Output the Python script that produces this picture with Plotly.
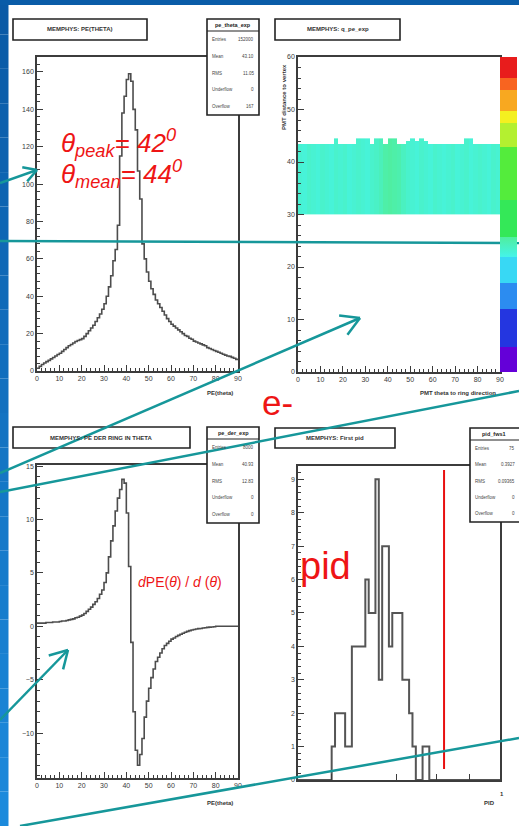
import math
import numpy as np
import plotly.graph_objects as go

W, H = 519, 826
FONT = "Liberation Sans, Arial, sans-serif"

# ---------------- data ----------------
theta_range = [0, 90]
# PE(theta) histogram, 1 degree bins
pe_theta_counts = [1.5, 2.5, 3.5, 4.3, 5, 5.7, 6.5, 7.2, 8, 8.8,
                   9.5, 10.5, 11.5, 12.5, 13.5, 14.2, 15, 15.8, 16.3, 16.8,
                   17.3, 18.5, 20, 21.5, 23, 24.5, 26.5, 28.5, 30.5, 33,
                   36, 40, 45, 51, 59, 65, 78, 115, 138, 147,
                   156, 159, 155, 140, 129, 107, 92, 68, 60, 53,
                   48, 44, 41, 38, 36, 34, 32, 30, 28, 26.5,
                   25, 24, 23, 22, 21, 20, 19, 18.5, 17.5, 17,
                   16, 15.5, 15, 14.5, 14, 13.5, 12.5, 12, 11.5, 11,
                   10.5, 10, 9.5, 9, 8.5, 8, 7.8, 7.3, 6.8, 6.2]
# dPE/dtheta histogram, 1 degree bins
pe_deriv = [0.3, 0.3, 0.3, 0.3, 0.35, 0.35, 0.35, 0.4, 0.4, 0.4,
            0.45, 0.5, 0.5, 0.55, 0.6, 0.65, 0.7, 0.8, 0.85, 0.95,
            1.05, 1.2, 1.4, 1.6, 1.8, 2.05, 2.3, 2.6, 3.0, 3.4,
            4.1, 5.0, 6.5, 8.0, 9.4, 10.8, 12.0, 12.8, 13.75, 13.4,
            10.6, 5.6, -1.5, -8.0, -11.6, -13.0, -12.0, -10.5, -8.5, -7.0,
            -5.8, -4.8, -4.0, -3.3, -2.9, -2.5, -2.1, -1.8, -1.6, -1.4,
            -1.2, -1.1, -0.95, -0.85, -0.75, -0.65, -0.55, -0.47, -0.4, -0.35,
            -0.3, -0.25, -0.22, -0.2, -0.16, -0.13, -0.1, -0.08, -0.06, -0.04,
            0, 0, 0, 0, 0, 0, 0, 0, 0, 0]

# q_pe_exp 2D map: band from band_low to band_top per 2-degree column
pmt_theta_range = [0, 90]
pmt_dist_range = [0, 60]
band_low = 30
band_step = 0.5
band_top = [43.5] * 8 + [44.5] + [43.5] * 4 + [44.5] * 3 + [43.5] + [44.5] * 2 + [43.5] \
    + [44.5] * 2 + [43.5] * 2 + [44.0, 44.5, 44.0, 44.5, 44.0] + [43.5] * 8 + [44.5] * 2 + [43.5] * 6
band_level = [0.385, 0.38, 0.39, 0.385, 0.38, 0.39, 0.385, 0.38, 0.39, 0.385,
              0.39, 0.38, 0.385, 0.39, 0.385, 0.38, 0.39, 0.395, 0.405, 0.42,
              0.425, 0.42, 0.415, 0.40, 0.39, 0.385, 0.38, 0.39, 0.385, 0.38,
              0.39, 0.385, 0.38, 0.385, 0.39, 0.38, 0.385, 0.39, 0.38, 0.385,
              0.39, 0.385, 0.38, 0.39, 0.385]

# pid histogram, 60 bins over [0, 1]
pid_range = [0, 1]
pid_counts = [0] * 10 + [1, 2, 2, 2, 1, 1, 4, 4, 4, 4,
                         6, 5, 5, 9, 3, 7, 7, 4, 5, 5,
                         5, 3, 3, 2, 1, 0, 0, 1, 1, 0] + [0] * 20
pid_cut = 0.723
pid_cut_span = [0.33, 9.28]
pid_ticks = [0.167, 0.489, 0.687, 0.851, 1.0]

# ---------------- helpers ----------------
def px(x):
    return x / W


def py(y):
    return 1 - y / H


AX = "#3c3c3c"
HCOL = "#4d4d4d"
TEAL = "#16979a"
RED = "#ee1515"

shapes = []
annotations = []


def rect(x0, y0, x1, y1, line="#222", fill="white", lw=1.5, layer="above"):
    shapes.append(dict(type="rect", xref="paper", yref="paper", x0=px(x0), x1=px(x1),
                       y0=py(y1), y1=py(y0), line=dict(color=line, width=lw),
                       fillcolor=fill, layer=layer))


def pline(x0, y0, x1, y1, color, width):
    shapes.append(dict(type="line", xref="paper", yref="paper", x0=px(x0), y0=py(y0),
                       x1=px(x1), y1=py(y1), line=dict(color=color, width=width), layer="above"))


def text(x, y, s, size, color="#222", xanchor="center", yanchor="middle", angle=0, bold=False, family=FONT):
    if bold:
        s = "<b>" + s + "</b>"
    annotations.append(dict(x=px(x), y=py(y), xref="paper", yref="paper", text=s, showarrow=False,
                            xanchor=xanchor, yanchor=yanchor, textangle=angle,
                            font=dict(size=size, color=color, family=family)))


def title_box(x0, y0, x1, y1, s):
    rect(x0, y0, x1, y1, lw=1.6)
    text((x0 + x1) / 2, (y0 + y1) / 2, s, 6, color="#333", bold=True)


def stats_box(x0, y0, x1, y1, header, rows, vx=None):
    rect(x0, y0, x1, y1, lw=1.6)
    hy = y0 + 12
    pline(x0, hy, x1, hy, "#222", 1.2)
    text((x0 + min(x1, 518)) / 2, y0 + 6, header, 5.5, color="#222", bold=True)
    n = len(rows)
    step = (y1 - hy) / n
    vx = (x1 - 3) if vx is None else vx
    for i, (k, v) in enumerate(rows):
        yy = hy + step * (i + 0.5)
        text(x0 + 3, yy, k, 4.5, color="#444", xanchor="left")
        text(vx, yy, v, 4.5, color="#444", xanchor="right")


def arrow(sx, sy, tx, ty, L=16, ang=30, width=2.5):
    pline(sx, sy, tx, ty, TEAL, width)
    dx, dy = tx - sx, ty - sy
    n = math.hypot(dx, dy)
    ux, uy = dx / n, dy / n
    for s in (1, -1):
        a = math.radians(ang * s)
        rx = ux * math.cos(a) - uy * math.sin(a)
        ry = ux * math.sin(a) + uy * math.cos(a)
        pline(tx - L * rx, ty - L * ry, tx, ty, TEAL, width)


def axis(domain, anchor, rng, tickvals=None, dtick=None, minor=None, ticklen=6, labels=True):
    d = dict(domain=domain, anchor=anchor, range=rng, showline=True, linecolor=AX, linewidth=1.6,
             mirror=True, ticks="inside", ticklen=ticklen, tickwidth=1.2, tickcolor=AX,
             showgrid=False, zeroline=False, showticklabels=labels,
             tickfont=dict(size=7, color="#3a3a3a", family=FONT), fixedrange=True)
    if tickvals is not None:
        d["tickvals"] = tickvals
        d["tickmode"] = "array"
    if dtick is not None:
        d["dtick"] = dtick
        d["tick0"] = 0
    if minor is not None:
        d["minor"] = dict(ticks="inside", ticklen=3, tickwidth=1, tickcolor=AX, dtick=minor, tick0=0, showgrid=False)
    return d


def hist_xy(counts, rng):
    n = len(counts)
    edges = np.linspace(rng[0], rng[1], n + 1)
    return list(edges), list(counts) + [counts[-1]]


fig = go.Figure()

# ---- panel 1: PE(theta)
hx, hy = hist_xy(pe_theta_counts, theta_range)
fig.add_trace(go.Scatter(x=hx, y=hy, mode="lines", line=dict(color=HCOL, width=1.6, shape="hv"),
                         xaxis="x", yaxis="y", hoverinfo="skip"))

# ---- panel 2: heatmap
ncol = len(band_top)
cw = (pmt_theta_range[1] - pmt_theta_range[0]) / ncol
xc = [pmt_theta_range[0] + cw * (i + 0.5) for i in range(ncol)]
nrow = int(round((max(band_top) - band_low) / band_step))
yc = [band_low + band_step * (j + 0.5) for j in range(nrow)]
z = [[(band_level[i] if yc[j] < band_top[i] else None) for i in range(ncol)] for j in range(nrow)]
cs = [[0.0, "#6400d8"], [0.08, "#6400d8"],
      [0.08, "#2436e0"], [0.2, "#2436e0"],
      [0.2, "#2c8cf0"], [0.283, "#2c8cf0"],
      [0.283, "#38d8f4"], [0.365, "#38d8f4"],
      [0.365, "#44f4ea"], [0.43, "#50ee9c"],
      [0.43, "#34e858"], [0.546, "#34e858"],
      [0.546, "#54ec3c"], [0.714, "#54ec3c"],
      [0.714, "#b4f030"], [0.79, "#b4f030"],
      [0.79, "#f4f020"], [0.83, "#f4f020"],
      [0.83, "#f8a820"], [0.895, "#f8a820"],
      [0.895, "#f86420"], [0.933, "#f86420"],
      [0.933, "#e81c1c"], [1.0, "#e81c1c"]]
fig.add_trace(go.Heatmap(x=xc, y=yc, z=z, zmin=0, zmax=1, colorscale=cs, xaxis="x2", yaxis="y2",
                         hoverinfo="skip", zsmooth=False,
                         colorbar=dict(x=px(500), xanchor="left", y=py(214.5), yanchor="middle",
                                       len=315 / H, lenmode="fraction", thickness=17, thicknessmode="pixels",
                                       xpad=0, ypad=0, outlinewidth=0, showticklabels=False, ticks="")))

# ---- panel 3: derivative
dx_, dy_ = hist_xy(pe_deriv, theta_range)
fig.add_trace(go.Scatter(x=dx_, y=dy_, mode="lines", line=dict(color=HCOL, width=1.6, shape="hv"),
                         xaxis="x3", yaxis="y3", hoverinfo="skip"))

# ---- panel 4: pid
qx, qy = hist_xy(pid_counts, pid_range)
fig.add_trace(go.Scatter(x=qx, y=qy, mode="lines", line=dict(color="#555", width=2.0, shape="hv"),
                         xaxis="x4", yaxis="y4", hoverinfo="skip"))
fig.add_trace(go.Scatter(x=[pid_cut, pid_cut], y=pid_cut_span, mode="lines",
                         line=dict(color="#e81010", width=2), xaxis="x4", yaxis="y4", hoverinfo="skip"))

# ---------------- background (slide) ----------------
nstrip = 24
for i in range(nstrip):
    t = i / (nstrip - 1)
    r = int(10 + t * (28 - 10))
    g = int(90 + t * (138 - 90))
    b = int(166 + t * (220 - 166))
    shapes.append(dict(type="rect", xref="paper", yref="paper", x0=0, x1=px(8.5),
                       y0=py(H * (i + 1) / nstrip), y1=py(H * i / nstrip),
                       fillcolor="rgb(%d,%d,%d)" % (r, g, b), line=dict(width=0), layer="below"))
shapes.append(dict(type="rect", xref="paper", yref="paper", x0=0, x1=1, y0=py(5), y1=1,
                   fillcolor="#0a5ca8", line=dict(width=0), layer="below"))

# ---------------- ROOT boxes ----------------
title_box(13, 19, 147, 40, "MEMPHYS: PE(THETA)")
title_box(275, 19, 400, 40, "MEMPHYS: q_pe_exp")
title_box(13, 427, 190, 448, "MEMPHYS: PE DER RING IN THETA")
title_box(275, 428, 395, 448, "MEMPHYS: First pid")

stats_box(207, 19, 259, 115, "pe_theta_exp",
          [("Entries", "152000"), ("Mean", "43.10"), ("RMS", "11.05"), ("Underflow", "0"), ("Overflow", "167")])
stats_box(207, 427, 259, 523, "pe_der_exp",
          [("Entries", "8000"), ("Mean", "40.93"), ("RMS", "12.83"), ("Underflow", "0"), ("Overflow", "0")])
stats_box(470, 428, 524, 522, "pid_fws1",
          [("Entries", "75"), ("Mean", "0.3927"), ("RMS", "0.09365"), ("Underflow", "0"), ("Overflow", "0")],
          vx=517)

# axis titles
text(235, 393, "PE(theta)", 6, color="#333", xanchor="right", bold=True)
text(498, 393, "PMT theta to ring direction", 6, color="#333", xanchor="right", bold=True)
text(284, 62, "PMT distance to vertex", 6, color="#333", yanchor="top", angle=-90, bold=True)
text(235, 803, "PE(theta)", 6, color="#333", xanchor="right", bold=True)
text(497, 803, "PID", 6, color="#333", xanchor="right", bold=True)
text(502, 794, "1", 6, color="#333", bold=True)

# ---------------- teal slide lines ----------------
arrow(0, 183, 37, 170, L=15)
pline(0, 241, 519, 243, TEAL, 2.5)
arrow(0, 473, 360, 318, L=21)
pline(0, 492, 519, 391, TEAL, 2.5)
arrow(0, 720, 68, 650, L=20)
pline(20, 826, 519, 738, TEAL, 2.5)

# ---------------- red slide text ----------------
text(59, 143, "<i>θ<sub>peak</sub>= 42<sup>0</sup></i>", 26, color=RED, xanchor="left")
text(59, 174, "<i>θ<sub>mean</sub>= 44<sup>0</sup></i>", 26, color=RED, xanchor="left")
text(277, 402, "e-", 35, color=RED)
text(325, 566, "pid", 38, color=RED)
text(180, 582, "<i>d</i>PE(<i>θ</i>) / <i>d</i> (<i>θ</i>)", 14, color=RED)

fig.update_layout(
    width=W, height=H, margin=dict(l=0, r=0, t=0, b=0, autoexpand=False),
    paper_bgcolor="white", plot_bgcolor="white", showlegend=False,
    xaxis=axis([px(37), px(238)], "y", theta_range, dtick=10, minor=2),
    yaxis=axis([py(371), py(57)], "x", [0, 168], dtick=20, minor=4),
    xaxis2=axis([px(298), px(500)], "y2", pmt_theta_range, dtick=10, minor=2),
    yaxis2=axis([py(372), py(57)], "x2", pmt_dist_range, dtick=10, minor=2),
    xaxis3=axis([px(37), px(238)], "y3", theta_range, dtick=10, minor=2),
    yaxis3=axis([py(778), py(465)], "x3", [-14.2, 15.1], dtick=5, minor=1),
    xaxis4=axis([px(298), px(500)], "y4", pid_range, tickvals=pid_ticks, labels=False),
    yaxis4=axis([py(780), py(466)], "x4", [0, 9.4], dtick=1, minor=0.2),
    shapes=shapes, annotations=annotations,
)

fig.write_html("out.html")
